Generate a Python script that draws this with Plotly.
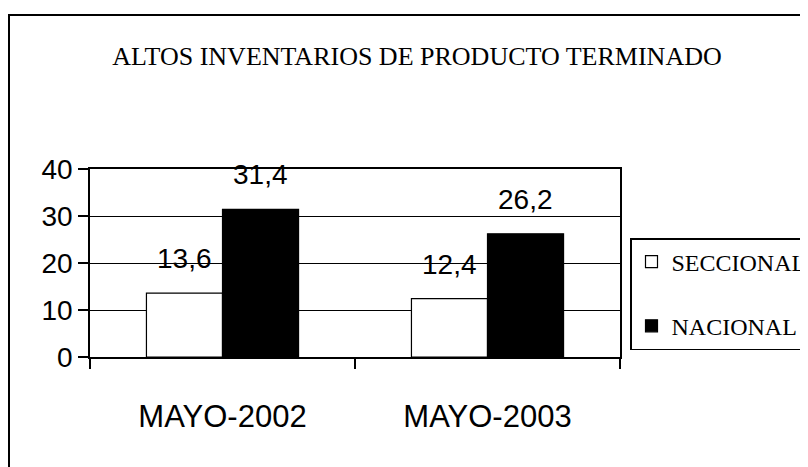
import plotly.graph_objects as go

categories = ["MAYO-2002", "MAYO-2003"]
series_names = ["SECCIONAL", "NACIONAL"]
seccional = [13.6, 12.4]
nacional = [31.4, 26.2]
y_ticks = [0, 10, 20, 30, 40]
title_text = "ALTOS INVENTARIOS DE PRODUCTO TERMINADO"

W, H = 808, 467
OFF = 8  # page body margin
ML, MT = 90 - OFF, 169 - OFF
plot_w, plot_h = 530, 188
MR = W - ML - plot_w
MB = H - MT - plot_h
BARGAP = 0.426
bar_px = plot_w / len(categories) * (1 - BARGAP) / 2

sans = "Liberation Sans, Arial, sans-serif"
serif = "Liberation Serif, Times New Roman, serif"

def page_x(px):
    return (px - OFF - ML) / plot_w

def page_y(py):
    return (MT + plot_h - (py - OFF)) / plot_h

fig = go.Figure()
fig.add_trace(go.Bar(x=categories, y=seccional, name=series_names[0],
                     marker=dict(color="white", line=dict(color="black", width=1.2)),
                     legendgroup="a"))
fig.add_trace(go.Bar(x=categories, y=nacional, name=series_names[1],
                     marker=dict(color="black", line=dict(color="black", width=1.2)),
                     legendgroup="b"))

for i, vals in enumerate([seccional, nacional]):
    for c, v in zip(categories, vals):
        fig.add_annotation(x=c, y=v, xref="x", yref="y",
                           text=f"{v:.1f}".replace(".", ","),
                           showarrow=False, yanchor="bottom",
                           xshift=(i - 0.5) * bar_px, yshift=17,
                           font=dict(family=sans, size=28, color="black"))

# outer chart border
fig.add_shape(type="rect", xref="paper", yref="paper",
              x0=page_x(9), x1=page_x(840),
              y0=page_y(500), y1=page_y(15),
              line=dict(color="black", width=2), layer="below")

fig.update_layout(
    width=W, height=H,
    margin=dict(l=ML, r=MR, t=MT, b=MB, autoexpand=False),
    paper_bgcolor="white", plot_bgcolor="white",
    barmode="group", bargap=BARGAP, bargroupgap=0,
    title=dict(text=title_text, x=(417 - OFF) / W, xanchor="center",
               y=1 - (56 - OFF) / H, yanchor="middle",
               font=dict(family=serif, size=26, color="black")),
    legend=dict(x=page_x(630), y=page_y(238), xanchor="left", yanchor="top",
                bordercolor="black", borderwidth=1.5, bgcolor="white",
                font=dict(family=serif, size=24, color="black"),
                traceorder="grouped", tracegroupgap=30),
    showlegend=True,
)
fig.update_xaxes(showline=True, linecolor="black", linewidth=1.5, mirror=True,
                 ticks="outside", tickson="boundaries", ticklen=10, tickcolor="black",
                 tickwidth=1.5, ticklabelstandoff=31, automargin=False,
                 tickfont=dict(family=sans, size=31, color="black"), showgrid=False)
fig.update_yaxes(range=[0, 40], tickvals=y_ticks, showline=True, linecolor="black",
                 linewidth=1.5, mirror=True, ticks="outside", ticklen=10, tickcolor="black",
                 tickwidth=1.5, showgrid=True, gridcolor="black", gridwidth=1.3,
                 zeroline=False, automargin=False,
                 tickfont=dict(family=sans, size=28, color="black"))

fig.write_html("out.html")
